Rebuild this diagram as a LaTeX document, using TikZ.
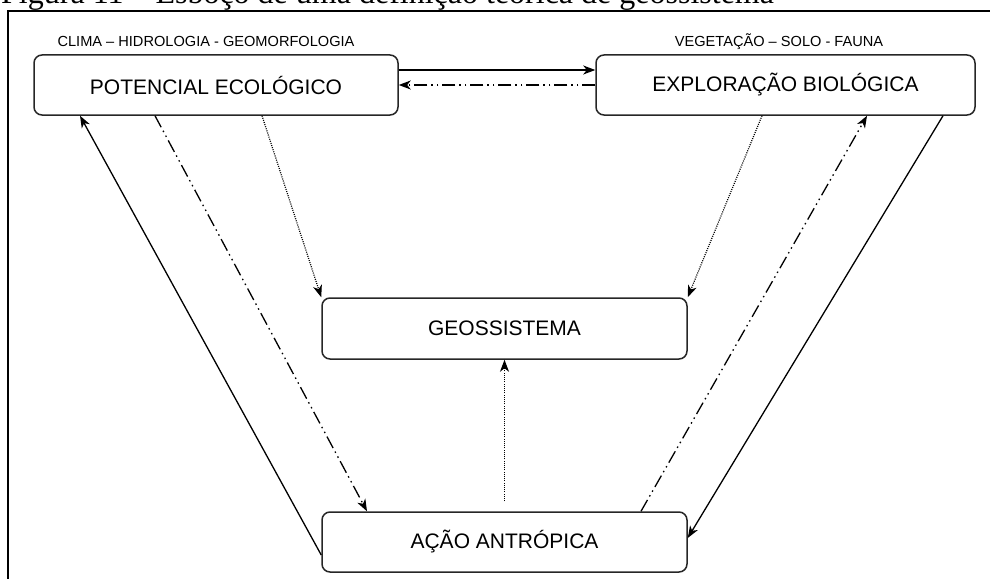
\documentclass[tikz,border=0pt]{standalone}
\usepackage{fontspec}
\setmainfont{Liberation Sans}
\newfontfamily\capfont{Liberation Serif}
\usetikzlibrary{arrows.meta}

\begin{document}
\begin{tikzpicture}[x=1pt, y=-1pt,
	caixa/.style={draw=black!85, line width=1.5pt, rounded corners=8pt, minimum height=60pt, inner sep=0pt, font=\fontsize{21}{24}\selectfont},
	rotulo/.style={anchor=base, inner sep=0pt, font=\fontsize{14.6}{16}\selectfont},
	seta/.style={line width=1.3pt, -{Stealth[length=12pt, width=9pt, inset=3.5pt]}},
	tracoponto/.style={seta, dash pattern=on 13pt off 4pt on 1.5pt off 4pt on 1.5pt off 4pt},
	pontilhado/.style={seta, line width=1.2pt, dash pattern=on 1pt off 1.2pt}]
			\useasboundingbox (0,0) rectangle (990,578);
			\clip (0,0) rectangle (990,578);
			\node[anchor=base west, inner sep=0pt, font=\capfont\fontsize{32}{36}\selectfont] (legenda) at (1,4) {Figura 11 – Esboço de uma definição teórica de geossistema};
			\draw[line width=2.5pt] (8,590) -- (8,11) -- (1000,11);
			\node[caixa, minimum width=364pt] (pe) at (216,85) {POTENCIAL ECOLÓGICO};
			\node[caixa, minimum width=379pt] (eb) at (785.5,85) {EXPLORAÇÃO BIOLÓGICA};
			\node[caixa, minimum width=365pt, minimum height=61pt] (geo) at (504.5,328.5) {GEOSSISTEMA};
			\node[caixa, minimum width=365pt] (aa) at (504.5,542) {AÇÃO ANTRÓPICA};
			\node[rotulo] (pelab) at (206,47) {CLIMA – HIDROLOGIA - GEOMORFOLOGIA};
			\node[rotulo] (eblab) at (779,47) {VEGETAÇÃO – SOLO - FAUNA};
			\draw[seta] ([yshift=15pt]pe.east) -- ([yshift=15pt]eb.west);
			\draw[tracoponto] (eb.west) -- (pe.east);
			\draw[pontilhado] ([xshift=46pt]pe.south) -- (geo.north west);
			\draw[pontilhado] ([xshift=-23.5pt]eb.south) -- (geo.north east);
			\draw[pontilhado, shorten <=10pt] (aa.north) -- (geo.south);
			\draw[tracoponto] ([xshift=-61pt]pe.south) -- ([xshift=-137.5pt]aa.north);
			\draw[tracoponto] ([xshift=136.5pt]aa.north) -- ([xshift=81.5pt]eb.south);
			\draw[seta] ([yshift=-13pt]aa.west) -- ([xshift=-136pt]pe.south);
			\draw[seta] ([xshift=157.5pt]eb.south) -- ([yshift=4pt]aa.east);
		\end{tikzpicture}
\end{document}
